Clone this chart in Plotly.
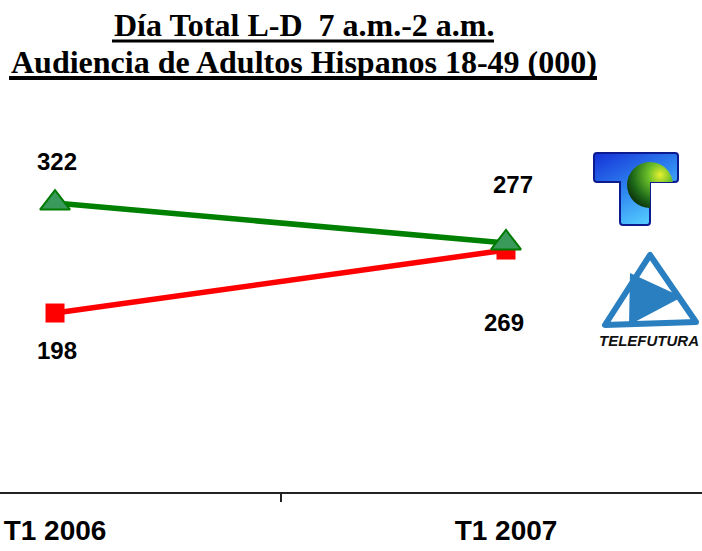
import base64
import plotly.graph_objects as go

categories = ["T1 2006", "T1 2007"]
telemundo = [322, 277]
telefutura = [198, 269]
title_lines = ["Día Total L-D\u00a0 7 a.m.-2 a.m.", "Audiencia de Adultos Hispanos 18-49 (000)"]

W, H = 702, 551
ML, MR, MT, MB = 0, 0, 120, 59
PH = H - MT - MB

def px_x(p):
    return (p - ML) / (W - ML - MR)

def px_y(p):
    return (H - MB - p) / PH

fig = go.Figure()
fig.add_trace(go.Scatter(
    x=categories, y=telefutura, mode="lines+markers",
    line=dict(color="#ff0000", width=5.5),
    marker=dict(symbol="square", size=19, color="#ff0000"),
    showlegend=False, hoverinfo="skip"))
fig.add_trace(go.Scatter(
    x=categories, y=telemundo, mode="lines+markers",
    line=dict(color="#008000", width=5.5),
    marker=dict(symbol="triangle-up", size=26, color="#3a9a5c",
                line=dict(color="#007a00", width=2)),
    showlegend=False, hoverinfo="skip"))

lab_font = dict(family="Liberation Sans, Arial", size=24, color="#000000", weight="bold")
offsets_tm = [(2, 42), (7, 58)]
offsets_tf = [(2, -37), (-2, -72)]
for i, c in enumerate(categories):
    fig.add_annotation(x=c, y=telemundo[i], xref="x", yref="y", text=str(telemundo[i]),
                       showarrow=False, xanchor="center", yanchor="middle",
                       xshift=offsets_tm[i][0], yshift=offsets_tm[i][1], font=lab_font)
    fig.add_annotation(x=c, y=telefutura[i], xref="x", yref="y", text=str(telefutura[i]),
                       showarrow=False, xanchor="center", yanchor="middle",
                       xshift=offsets_tf[i][0], yshift=offsets_tf[i][1], font=lab_font)

# titles
title_font = dict(family="Liberation Serif, Times New Roman", size=32, color="#000000", weight="bold")
for txt, yp in zip(title_lines, [25, 62]):
    fig.add_annotation(x=px_x(304), y=px_y(yp), xref="paper", yref="paper",
                       text=txt, showarrow=False,
                       xanchor="center", yanchor="middle", font=title_font)
# underlines
for (x0, x1, yy, lw) in [(112, 494, 41, 3), (9, 597, 78, 4)]:
    fig.add_shape(type="line", xref="paper", yref="paper",
                  x0=px_x(x0), x1=px_x(x1), y0=px_y(yy), y1=px_y(yy),
                  line=dict(color="#000000", width=lw))

# logos
tm_svg = """<svg xmlns="http://www.w3.org/2000/svg" width="88" height="76" viewBox="0 0 88 76">
<defs>
<linearGradient id="b" x1="0" y1="0" x2="0.6" y2="1">
<stop offset="0" stop-color="#1530d8"/><stop offset="0.55" stop-color="#2f86f0"/><stop offset="1" stop-color="#55ccff"/></linearGradient>
<radialGradient id="g" cx="0.72" cy="0.28" r="0.85">
<stop offset="0" stop-color="#e8f030"/><stop offset="0.3" stop-color="#6cc02a"/><stop offset="0.7" stop-color="#1f6a1a"/><stop offset="1" stop-color="#082808"/></radialGradient>
<clipPath id="c"><path d="M5,2 H83 Q86,2 86,5 V28 Q86,31 83,31 H58 V71 Q58,74 55,74 H31 Q28,74 28,71 V31 H5 Q2,31 2,28 V5 Q2,2 5,2 Z"/></clipPath>
</defs>
<path d="M5,2 H83 Q86,2 86,5 V28 Q86,31 83,31 H58 V71 Q58,74 55,74 H31 Q28,74 28,71 V31 H5 Q2,31 2,28 V5 Q2,2 5,2 Z" fill="url(#b)" stroke="#0c1c90" stroke-width="2"/>
<g clip-path="url(#c)"><circle cx="58" cy="34" r="23" fill="url(#g)"/></g>
</svg>"""
tf_svg = """<svg xmlns="http://www.w3.org/2000/svg" width="114" height="97" viewBox="0 0 114 97">
<polygon points="62,5 17,75 108,72" fill="none" stroke="#2a7fc0" stroke-width="6" stroke-linejoin="round"/>
<polygon points="42,23 41,75 94,47" fill="#2a7fc0"/>
</svg>"""

def uri(s):
    return "data:image/svg+xml;base64," + base64.b64encode(s.encode()).decode()

fig.add_layout_image(source=uri(tm_svg), xref="paper", yref="paper",
                     x=px_x(592), y=px_y(151), sizex=88 / W, sizey=76 / PH,
                     xanchor="left", yanchor="top", sizing="stretch", layer="above")
fig.add_layout_image(source=uri(tf_svg), xref="paper", yref="paper",
                     x=px_x(588), y=px_y(250), sizex=114 / W, sizey=97 / PH,
                     xanchor="left", yanchor="top", sizing="stretch", layer="above")
fig.add_annotation(x=px_x(649), y=px_y(340), xref="paper", yref="paper", text="TELEFUTURA",
                   showarrow=False, xanchor="center", yanchor="middle",
                   font=dict(family="Liberation Sans, Arial", size=15, color="#111111",
                             weight="bold", style="italic"))

fig.update_xaxes(type="category", range=[-0.122, 1.4346], showline=True, linecolor="#222222",
                 linewidth=2, ticks="outside", tickson="boundaries", ticklen=8, tickwidth=2,
                 tickcolor="#222222", showgrid=False, zeroline=False, ticklabelstandoff=12,
                 tickfont=dict(family="Liberation Sans, Arial", size=28, color="#000000", weight="bold"))
fig.update_yaxes(visible=False, range=[-3.8, 415.6])
fig.update_layout(width=W, height=H, margin=dict(l=ML, r=MR, t=MT, b=MB),
                  paper_bgcolor="white", plot_bgcolor="white", showlegend=False)
fig.write_html("out.html", config={"displayModeBar": False},
               post_script="document.body.style.margin='0px';document.body.style.overflow='hidden';")
